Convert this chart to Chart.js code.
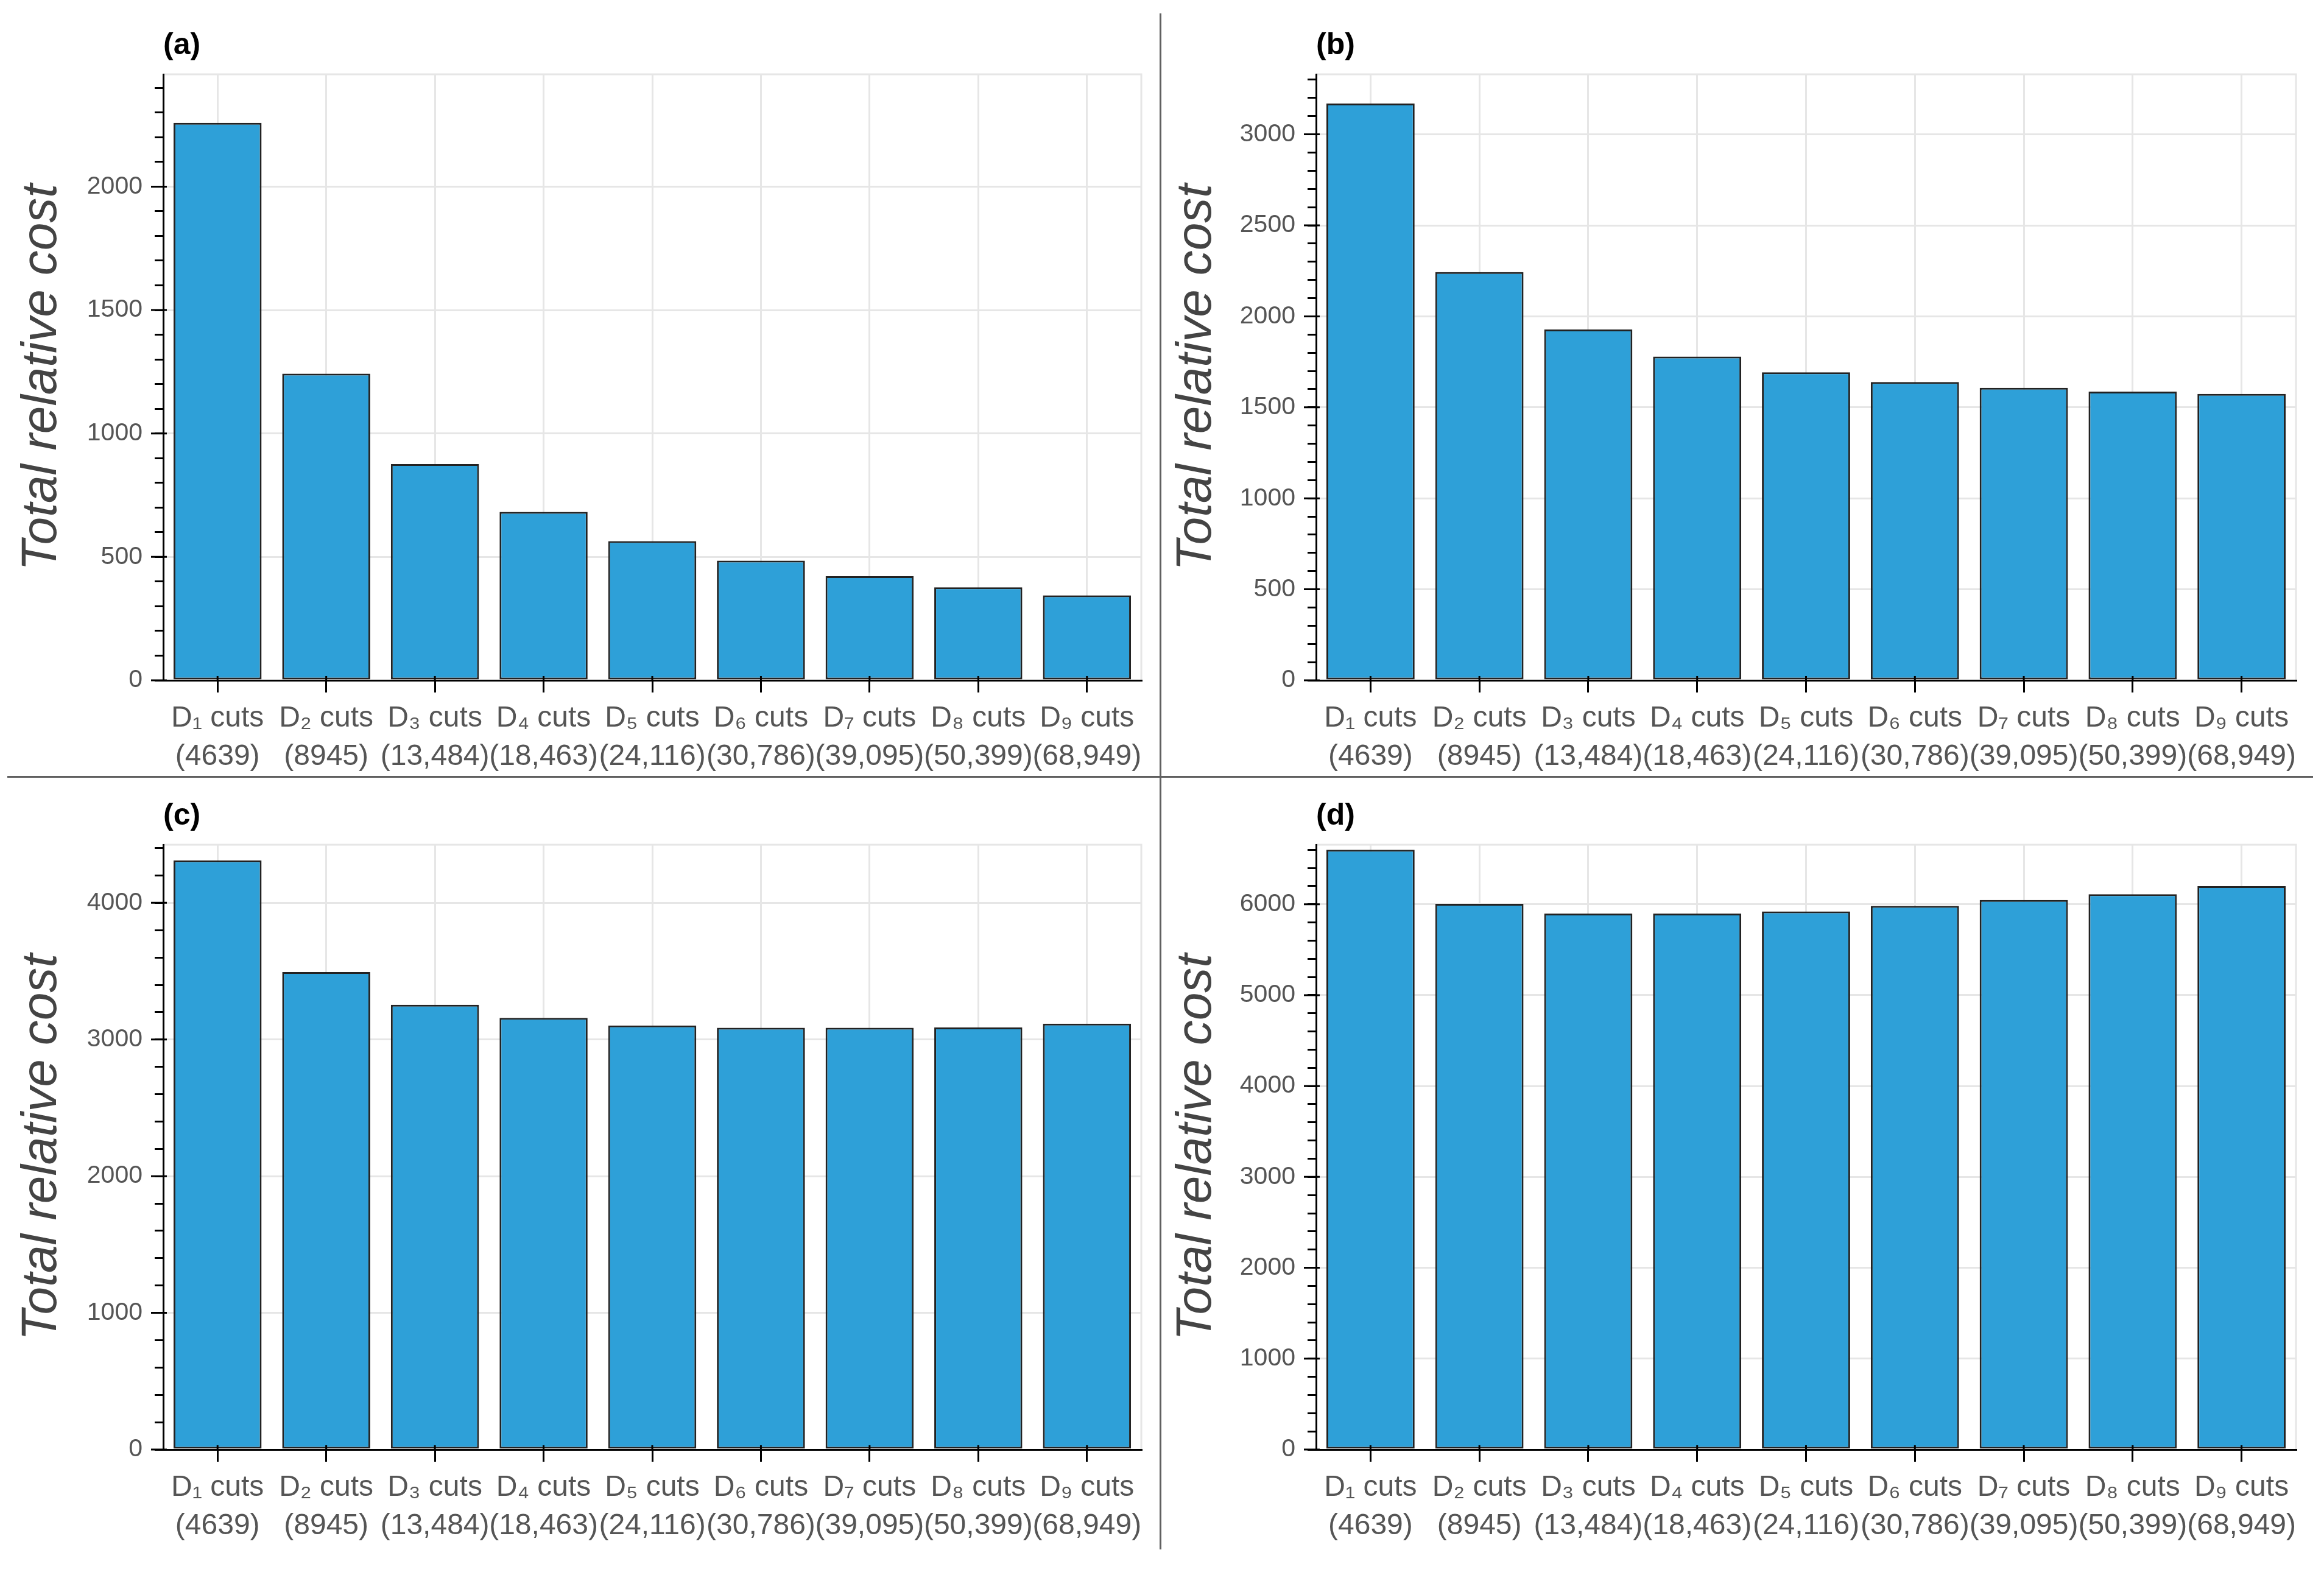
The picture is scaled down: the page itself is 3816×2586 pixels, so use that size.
<!DOCTYPE html>
<html>
<head>
<meta charset="utf-8">
<script src="https://cdn.jsdelivr.net/npm/chart.js@4.4.1/dist/chart.umd.min.js"></script>
<style>
  html, body { margin: 0; padding: 0; background: #fff; }
  body { width: 3816px; height: 2586px; position: relative; overflow: hidden; }
  .pnl { position: absolute; }
  .sep { position: absolute; background: #606060; }
</style>
</head>
<body>
<div class="pnl" style="left:0;top:0"><canvas id="cA" width="1990" height="1275"></canvas></div>
<div class="pnl" style="left:1906px;top:0"><canvas id="cB" width="1910" height="1275"></canvas></div>
<div class="pnl" style="left:0;top:1275px"><canvas id="cC" width="1990" height="1311"></canvas></div>
<div class="pnl" style="left:1906px;top:1275px"><canvas id="cD" width="1910" height="1311"></canvas></div>
<div class="sep" style="left:1904px;top:22px;width:3px;height:2522px"></div>
<div class="sep" style="left:12px;top:1274px;width:3786px;height:3px"></div>

<script>
// ── DATA ─────────────────────────────────────────
const cutNames  = ['D₁ cuts', 'D₂ cuts', 'D₃ cuts', 'D₄ cuts', 'D₅ cuts', 'D₆ cuts', 'D₇ cuts', 'D₈ cuts', 'D₉ cuts'];
const cutCounts = ['(4639)', '(8945)', '(13,484)', '(18,463)', '(24,116)', '(30,786)', '(39,095)', '(50,399)', '(68,949)'];

const costA = [2258, 1242, 876, 682, 564, 485, 422, 377, 344];
const costB = [3169, 2243, 1928, 1779, 1693, 1639, 1607, 1586, 1574];
const costC = [4311, 3494, 3254, 3158, 3103, 3086, 3086, 3088, 3116];
const costD = [6600, 6005, 5898, 5898, 5921, 5982, 6047, 6111, 6199];

const panelTags = ['(a)', '(b)', '(c)', '(d)'];
const yMax      = [2455, 3330, 4425, 6655];
const minorStep = [100, 100, 200, 200];
const majorStep = [500, 500, 1000, 1000];
const yTitle    = 'Total relative cost';

// ── STYLE ────────────────────────────────────────
const FONT  = '"Liberation Sans", Arial, sans-serif';
const BAR   = '#2ea0d8';
const EDGE  = '#222222';
const GRID  = '#e6e6e6';
const TICKC = '#555555';
const NONE  = 'rgba(0,0,0,0)';

const isMult = (v, m) => Math.abs(v / m - Math.round(v / m)) < 1e-6;

// Rahmen oben/rechts, längere Haupt-Ticks + Panel-Buchstabe
const framePlugin = {
  id: 'frame',
  beforeDraw(chart) {
    const { ctx, chartArea: a } = chart;
    ctx.save();
    ctx.strokeStyle = GRID;
    ctx.lineWidth = 3;
    ctx.beginPath();
    ctx.moveTo(a.left, a.top);
    ctx.lineTo(a.right, a.top);
    ctx.lineTo(a.right, a.bottom);
    ctx.stroke();
    ctx.restore();
  },
  afterDraw(chart) {
    const { ctx, chartArea: a } = chart;
    const major = chart.options.plugins.frame.major;
    const ys = chart.scales.y, xs = chart.scales.x;
    ctx.save();
    ctx.strokeStyle = '#000';
    ctx.lineWidth = 3;
    ctx.beginPath();
    ys.ticks.forEach(t => {
      if (!isMult(t.value, major)) return;
      const py = ys.getPixelForValue(t.value);
      ctx.moveTo(a.left - 20, py);
      ctx.lineTo(a.left + 6, py);
    });
    xs.ticks.forEach((t, k) => {
      const px = xs.getPixelForTick(k);
      ctx.moveTo(px, a.bottom - 7);
      ctx.lineTo(px, a.bottom);
    });
    ctx.stroke();
    ctx.fillStyle = '#000';
    ctx.font = 'bold 50px ' + FONT;
    ctx.textBaseline = 'middle';
    ctx.textAlign = 'left';
    ctx.fillText(chart.options.plugins.frame.tag, a.left, a.top - 47);
    ctx.restore();
  }
};

function makePanel(id, i, values, pad, yWidth, titlePad) {
  const major = majorStep[i];
  const minor = minorStep[i];
  return new Chart(document.getElementById(id), {
    type: 'bar',
    data: {
      labels: cutNames.map((n, k) => [n, cutCounts[k]]),
      datasets: [{
        data: values,
        backgroundColor: BAR,
        borderColor: EDGE,
        borderWidth: 3,
        borderSkipped: false,
        categoryPercentage: 1.0,
        barPercentage: 0.81
      }]
    },
    options: {
      responsive: false,
      devicePixelRatio: 1,
      animation: false,
      layout: { padding: pad },
      plugins: {
        legend: { display: false },
        tooltip: { enabled: false },
        frame: { tag: panelTags[i], major: major }
      },
      scales: {
        x: {
          afterFit: s => { s.height = 150; },
          border: { color: '#000', width: 3 },
          grid: { offset: false, color: GRID, lineWidth: 3, tickLength: 20, tickColor: '#000', tickWidth: 3 },
          ticks: {
            autoSkip: false, maxRotation: 0, minRotation: 0, padding: 12,
            color: TICKC, font: { family: FONT, size: 48, lineHeight: 1.3 }
          }
        },
        y: {
          min: 0,
          max: yMax[i],
          afterFit: s => { s.width = yWidth; },
          border: { color: '#000', width: 3 },
          grid: {
            color: c => (c.tick && isMult(c.tick.value, major)) ? GRID : NONE,
            tickColor: c => (c.tick && isMult(c.tick.value, minor)) ? '#000' : NONE,
            lineWidth: 3, tickLength: 14, tickWidth: 3
          },
          ticks: {
            // feste 100er-Schritte, Markierungen nur alle "minor"
            stepSize: 100, includeBounds: false, autoSkip: false, padding: 20,
            color: TICKC, font: { family: FONT, size: 41 },
            callback: v => (isMult(v, major) ? String(Math.round(v)) : '')
          },
          title: {
            display: true, text: yTitle, color: '#444',
            padding: { top: titlePad, bottom: 0 },
            font: { family: FONT, size: 82, style: 'italic', lineHeight: 1.2 }
          }
        }
      }
    },
    plugins: [framePlugin]
  });
}

makePanel('cA', 0, costA, { left: 0, top: 122, right: 116, bottom: 8 }, 268, 20);
makePanel('cB', 1, costB, { left: 0, top: 122, right: 46, bottom: 8 }, 255, 10);
makePanel('cC', 2, costC, { left: 0, top: 112, right: 116, bottom: 56 }, 268, 20);
makePanel('cD', 3, costD, { left: 0, top: 112, right: 46, bottom: 56 }, 255, 10);
</script>
</body>
</html>
